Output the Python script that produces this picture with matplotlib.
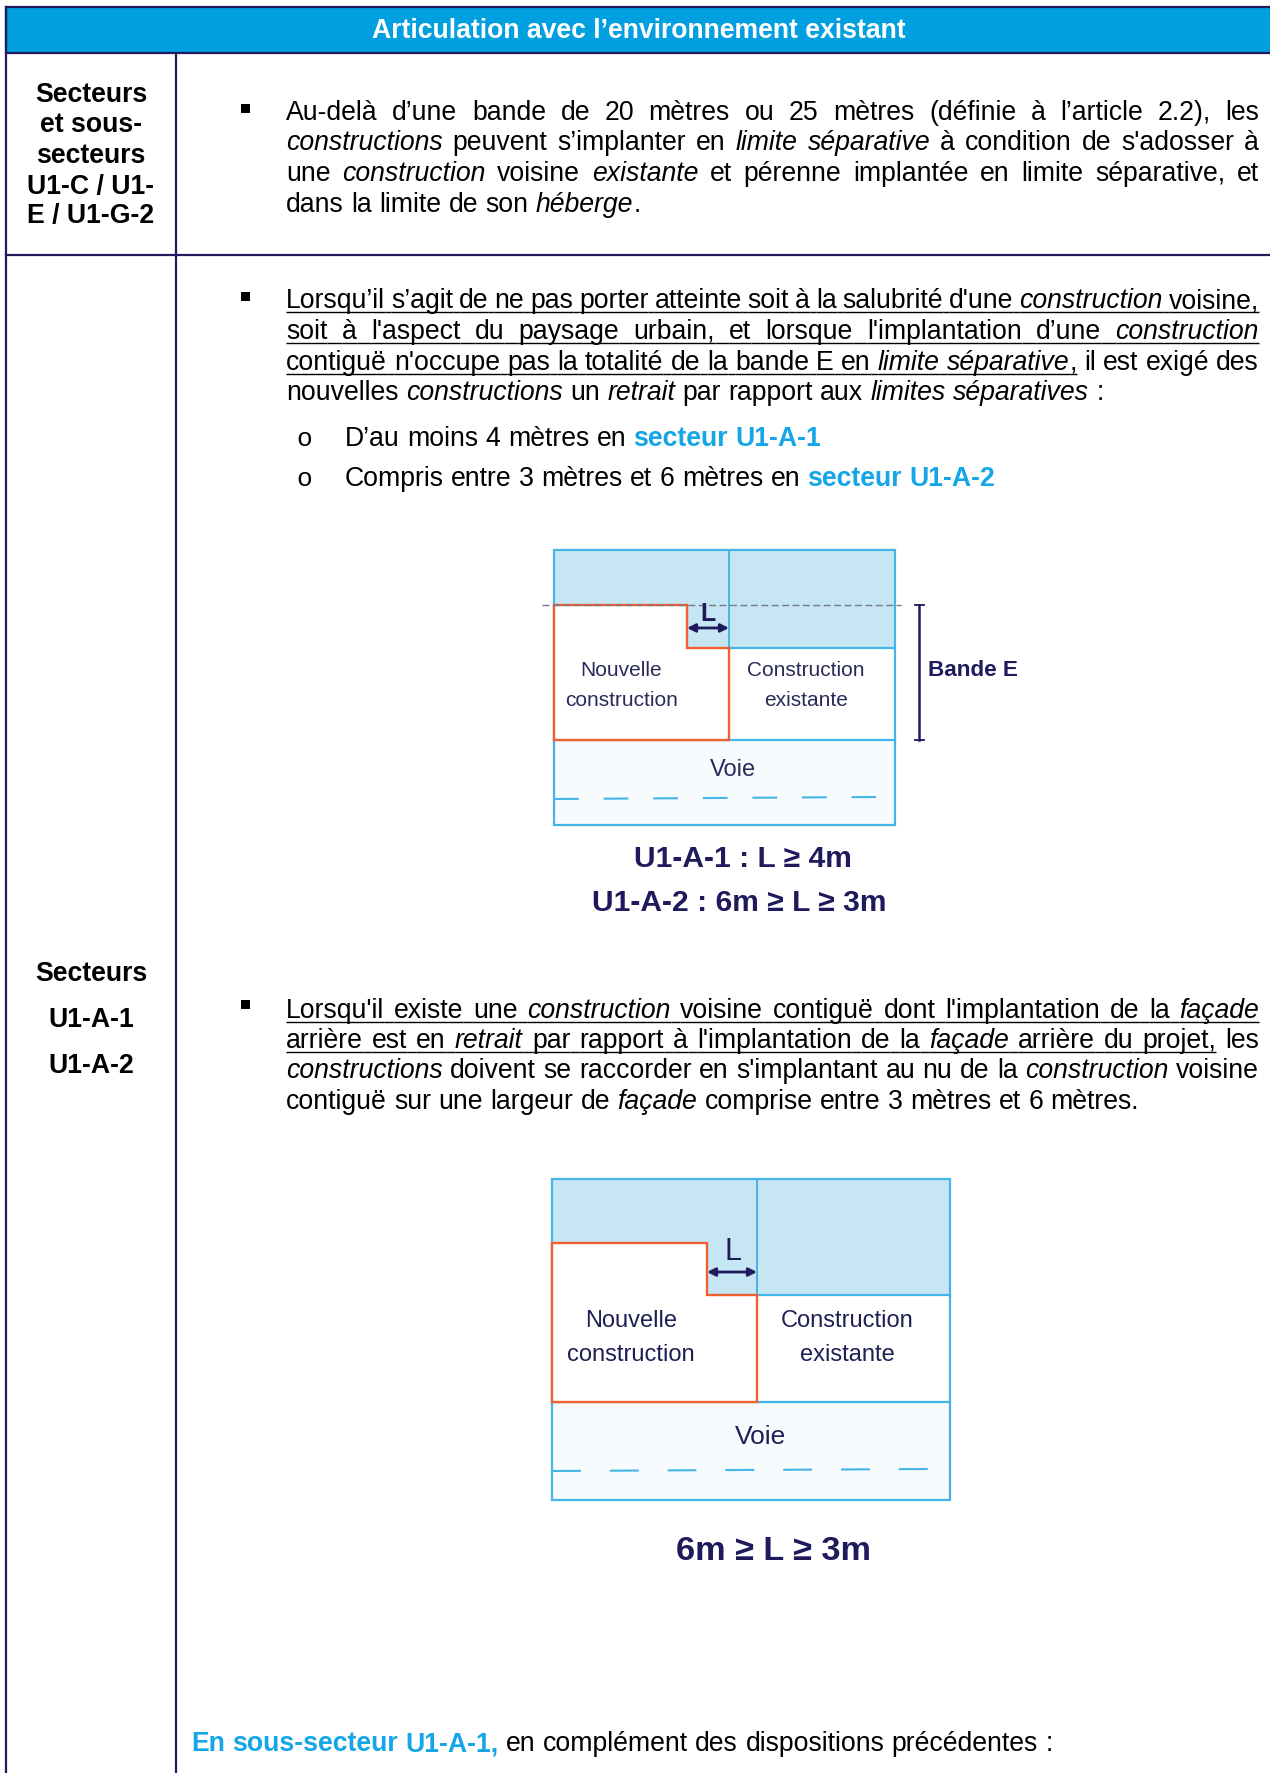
import re
import matplotlib
matplotlib.use('Agg')
import matplotlib.pyplot as plt
from matplotlib.patches import Rectangle, Polygon
from matplotlib.font_manager import FontProperties

plt.rcParams['font.family'] = ['Liberation Sans', 'DejaVu Sans']

NAVY = '#1f1a5c'
HEADER_BLUE = '#009fe0'
TEXT_BLUE = '#14a6e6'
LINE_BLUE = '#45b4e6'
FILL_BLUE = '#c7e6f4'
ROAD_FILL = '#f7fbfe'
RED = '#f0602f'
BODY_SIZE = 19.15

title = 'Articulation avec l’environnement existant'
left_top = ['Secteurs', 'et sous-', 'secteurs', 'U1-C / U1-', 'E / U1-G-2']
left_top_y = [95, 125, 156, 187, 216]
left_bottom = ['Secteurs', 'U1-A-1', 'U1-A-2']
left_bottom_y = [974, 1020, 1066]

# * italic, _ underline, # blue bold
para_1 = ['Au-delà d’une bande de 20 mètres ou 25 mètres (définie à l’article 2.2), les',
          '*constructions* peuvent s’implanter en *limite séparative* à condition de s\'adosser à',
          'une *construction* voisine *existante* et pérenne implantée en limite séparative, et',
          'dans la limite de son *héberge*.']
para_1_y = [119.5, 150.5, 181, 212]
para_2 = ['_Lorsqu’il s’agit de ne pas porter atteinte soit à la salubrité d\'une *construction* voisine,_',
          '_soit à l\'aspect du paysage urbain, et lorsque l\'implantation d’une *construction*_',
          '_contiguë n\'occupe pas la totalité de la bande E en *limite séparative*,_ il est exigé des',
          'nouvelles *constructions* un *retrait* par rapport aux *limites séparatives* :']
para_2_y = [308, 339, 370, 400]
para_3 = ['_Lorsqu\'il existe une *construction* voisine contiguë dont l\'implantation de la *façade*_',
          '_arrière est en *retrait* par rapport à l\'implantation de la *façade* arrière du projet,_ les',
          '*constructions* doivent se raccorder en s\'implantant au nu de la *construction* voisine',
          'contiguë sur une largeur de *façade* comprise entre 3 mètres et 6 mètres.']
para_3_y = [1017.5, 1048, 1078.5, 1109]
sub_items = ['D’au moins 4 mètres en #secteur U1-A-1#',
             'Compris entre 3 mètres et 6 mètres en #secteur U1-A-2#']
sub_items_y = [446, 486]
last_line = '#En sous-secteur U1-A-1,# en complément des dispositions précédentes :'

fig = plt.figure(figsize=(12.7, 17.73), dpi=100)
ax = fig.add_axes([0, 0, 1, 1])
ax.set_xlim(0, 1270)
ax.set_ylim(1773, 0)
ax.axis('off')
renderer = fig.canvas.get_renderer()


def parse(line):
    chunks = []
    italic = under = blue = False
    for part in re.split(r'([*_#])', line):
        if part == '*':
            italic = not italic
        elif part == '_':
            under = not under
        elif part == '#':
            blue = not blue
        elif part:
            for token in re.findall(r' +|[^ ]+', part):
                chunks.append((token, italic, under, blue))
    return chunks


def font_for(italic, blue, size):
    return FontProperties(family='Liberation Sans', size=size,
                          style='italic' if italic else 'normal',
                          weight='bold' if blue else 'normal')


def text_width(s, prop):
    w, _, _ = renderer.get_text_width_height_descent(s, prop, False)
    return w


def draw_line(line, x, y, right=None, size=BODY_SIZE):
    chunks = parse(line)
    space = text_width('a a', font_for(False, False, size)) - text_width('aa', font_for(False, False, size))
    widths = []
    for token, italic, under, blue in chunks:
        widths.append(space if token.isspace() else text_width(token, font_for(italic, blue, size)))
    gap = space
    if right is not None:
        n = sum(1 for c in chunks if c[0].isspace())
        natural = sum(w for w, c in zip(widths, chunks) if not c[0].isspace())
        gap = (right - x - natural) / n
    for (token, italic, under, blue), w in zip(chunks, widths):
        adv = gap if token.isspace() else w
        if not token.isspace():
            ax.text(x, y, token, fontproperties=font_for(italic, blue, size), va='baseline', ha='left',
                    color=TEXT_BLUE if blue else 'black')
        if under:
            ax.plot([x, x + adv], [y + 4, y + 4], color='black', lw=1.0, solid_capstyle='butt')
        x += adv


def draw_para(lines, ys, bullet_y):
    ax.add_patch(Rectangle((241, bullet_y - 4.5), 9, 9, color='black', lw=0))
    for i, (line, y) in enumerate(zip(lines, ys)):
        draw_line(line, 286, y, right=1259 if i < len(lines) - 1 else None)


def draw_diagram(left, mid, right, top, step_y, notch_x, notch_y, row_y, bottom, dash_y, period, size):
    ax.add_patch(Rectangle((left, top), right - left, notch_y - top, fc=FILL_BLUE, ec='none'))
    ax.add_patch(Rectangle((left, row_y), right - left, bottom - row_y, fc=ROAD_FILL, ec='none'))
    ax.add_patch(Rectangle((left, top), right - left, bottom - top, fc='none', ec=LINE_BLUE, lw=1.6))
    ax.plot([mid, mid], [top, row_y], color=LINE_BLUE, lw=1.4)
    ax.plot([mid, right], [notch_y, notch_y], color=LINE_BLUE, lw=1.6)
    ax.plot([left, right], [row_y, row_y], color=LINE_BLUE, lw=1.6)
    outline = [(left, step_y), (notch_x, step_y), (notch_x, notch_y), (mid, notch_y), (mid, row_y), (left, row_y)]
    ax.add_patch(Polygon(outline, closed=True, fc='white', ec=RED, lw=1.7, zorder=3))
    ax.plot([left, right - 19], [dash_y + 1, dash_y - 1], color=LINE_BLUE, lw=1.5,
            dashes=(period / 2 * 0.72 / 1.5, period / 2 * 0.72 / 1.5))
    ax.annotate('', xy=(notch_x, step_y + size * 1.35), xytext=(mid, step_y + size * 1.35), zorder=4,
                arrowprops=dict(arrowstyle='<|-|>', color=NAVY, lw=2.0, mutation_scale=12, shrinkA=0, shrinkB=0))


# table frame and header
ax.add_patch(Rectangle((6, 7), 1270, 46, fc=HEADER_BLUE, ec=NAVY, lw=1.6))
ax.plot([6, 6], [7, 1773], color=NAVY, lw=1.6)
ax.plot([176, 176], [53, 1773], color=NAVY, lw=1.6)
ax.plot([6, 1270], [255, 255], color=NAVY, lw=1.6)
ax.text(639, 31, title, color='white', fontsize=19.2, fontweight='bold', ha='center', va='center')

for label, y in zip(left_top, left_top_y):
    ax.text(91, y, label, fontsize=BODY_SIZE, fontweight='bold', ha='center', va='center', color='black')
for label, y in zip(left_bottom, left_bottom_y):
    ax.text(91, y, label, fontsize=BODY_SIZE, fontweight='bold', ha='center', va='center', color='black')

draw_para(para_1, para_1_y, 108)
draw_para(para_2, para_2_y, 296.5)
draw_para(para_3, para_3_y, 1004)

for item, y in zip(sub_items, sub_items_y):
    ax.text(304.5, y, 'o', fontsize=19, family='Liberation Mono', ha='center', va='baseline')
    draw_line(item, 345, y)
draw_line(last_line, 191, 1751)

# first diagram
draw_diagram(554, 729, 895, 550, 605, 687, 648, 740, 825, 798, 49.6, 17)
ax.plot([542, 901], [605, 605], color='#77778f', lw=1.0, dashes=(5, 2.5), zorder=4)
ax.plot([919, 919], [605, 740], color=NAVY, lw=1.8)
ax.plot([914.5, 923.5], [605, 605], color=NAVY, lw=1.3)
ax.plot([914.5, 923.5], [740, 740], color=NAVY, lw=1.3)
ax.text(708, 614, 'L', color=NAVY, fontsize=18, fontweight='bold', ha='center', va='center', zorder=5)
ax.text(928.5, 670, 'Bande E', color=NAVY, fontsize=16.2, fontweight='bold', ha='left', va='center')
ax.text(621.5, 671, 'Nouvelle', color='#2a2a5a', fontsize=15, ha='center', va='center', zorder=5)
ax.text(621.5, 701, 'construction', color='#2a2a5a', fontsize=15, ha='center', va='center', zorder=5)
ax.text(806, 671, 'Construction', color='#2a2a5a', fontsize=15, ha='center', va='center')
ax.text(806, 701, 'existante', color='#2a2a5a', fontsize=15, ha='center', va='center')
ax.text(733, 770, 'Voie', color='#2a2a5a', fontsize=17, ha='center', va='center')
ax.text(743, 859, 'U1-A-1 : L ≥ 4m', color=NAVY, fontsize=21.6, fontweight='bold', ha='center', va='center')
ax.text(739, 903, 'U1-A-2 : 6m ≥ L ≥ 3m', color=NAVY, fontsize=21.6, fontweight='bold', ha='center', va='center')

# second diagram
draw_diagram(552, 757, 950, 1179, 1243, 707, 1295, 1402, 1500, 1470, 57.8, 21.5)
ax.text(733, 1252, 'L', color=NAVY, fontsize=22, ha='center', va='center', zorder=5)
ax.text(631, 1321, 'Nouvelle', color='#1f1f55', fontsize=17, ha='center', va='center', zorder=5)
ax.text(631, 1355, 'construction', color='#1f1f55', fontsize=17, ha='center', va='center', zorder=5)
ax.text(847, 1321, 'Construction', color='#1f1f55', fontsize=17, ha='center', va='center')
ax.text(847, 1355, 'existante', color='#1f1f55', fontsize=17, ha='center', va='center')
ax.text(761, 1437, 'Voie', color='#1f1f55', fontsize=19, ha='center', va='center')
ax.text(773, 1551, '6m ≥ L ≥ 3m', color=NAVY, fontsize=24.7, fontweight='bold', ha='center', va='center')

fig.savefig('out.png', dpi=100)
